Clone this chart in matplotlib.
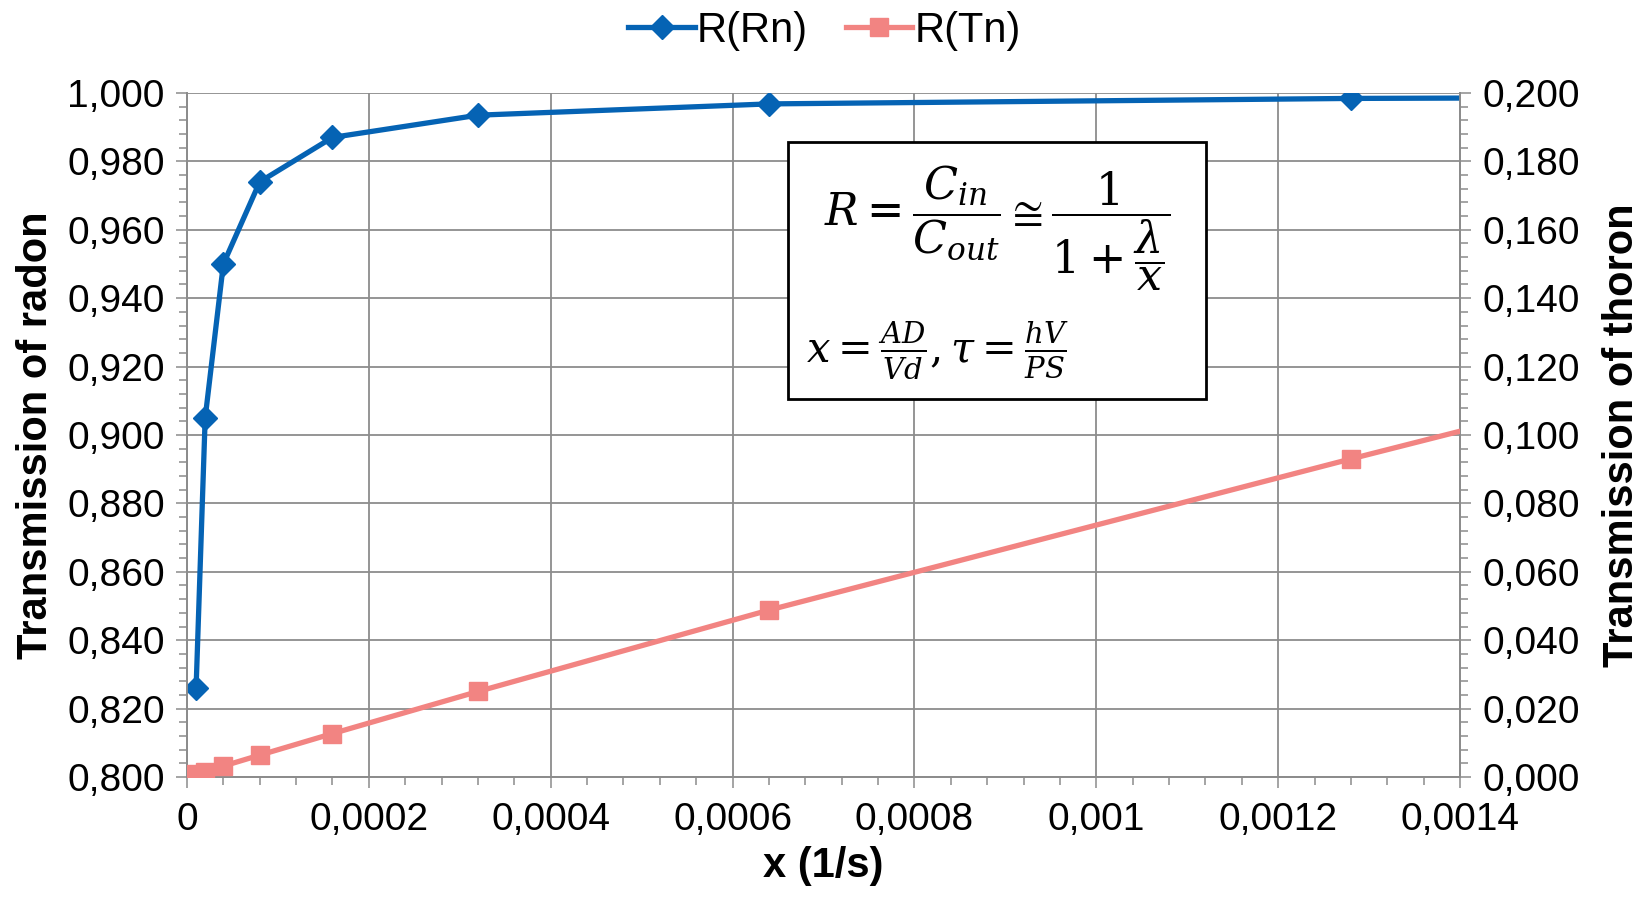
import matplotlib
matplotlib.use('Agg')
import matplotlib.pyplot as plt
from matplotlib.ticker import MultipleLocator, FuncFormatter
from matplotlib.patches import Rectangle

matplotlib.rcParams['font.family'] = 'Liberation Sans'
matplotlib.rcParams['mathtext.fontset'] = 'dejavuserif'

# ventilation rate x (1/s)
x_vals = [0.00001, 0.00002, 0.00004, 0.00008, 0.00016, 0.00032, 0.00064, 0.00128, 0.0014]
# transmission values
r_rn = [0.826, 0.905, 0.950, 0.974, 0.987, 0.9935, 0.9968, 0.9984, 0.9985]
r_tn = [0.0008, 0.0016, 0.0032, 0.0064, 0.0127, 0.0250, 0.0488, 0.0930, 0.1011]
n_markers = 8  # last point (0.0014) has no marker

blue = '#0563B4'
pink = '#F28482'
grid_gray = '#8C8C8C'

fig = plt.figure(figsize=(16.49, 8.99), dpi=100)
ax = fig.add_axes([0.1134, 0.1357, 0.7720, 0.7609])
ax2 = ax.twinx()


def comma(fmt):
    def f(v, pos):
        return fmt(v).replace('.', ',')
    return FuncFormatter(f)


# left axis (radon)
ln1, = ax.plot(x_vals, r_rn, color=blue, lw=3.8, marker='D', ms=12,
               markevery=list(range(n_markers)), zorder=4, label='R(Rn)')
ax.set_xlim(0, 0.0014)
ax.set_ylim(0.8, 1.0)
ax.xaxis.set_major_locator(MultipleLocator(0.0002))
ax.xaxis.set_minor_locator(MultipleLocator(0.00004))
ax.yaxis.set_major_locator(MultipleLocator(0.02))
ax.yaxis.set_minor_locator(MultipleLocator(0.004))
ax.xaxis.set_major_formatter(comma(lambda v: '%g' % round(v, 6)))
ax.yaxis.set_major_formatter(comma(lambda v: '%.3f' % v))
ax.grid(True, which='major', color=grid_gray, lw=1.3)
ax.set_axisbelow(True)

# right axis (thoron)
ln2, = ax2.plot(x_vals, r_tn, color=pink, lw=3.8, marker='s', ms=13,
                markevery=list(range(n_markers)), zorder=4, label='R(Tn)')
ax2.set_ylim(0, 0.2)
ax2.yaxis.set_major_locator(MultipleLocator(0.02))
ax2.yaxis.set_minor_locator(MultipleLocator(0.004))
ax2.yaxis.set_major_formatter(comma(lambda v: '%.3f' % v))

for a in (ax, ax2):
    for side in ('left', 'right', 'bottom'):
        a.spines[side].set_color(grid_gray)
        a.spines[side].set_linewidth(1.3)
    a.spines['top'].set_visible(False)
    a.tick_params(which='major', direction='out', length=8, width=1.1,
                  color=grid_gray, labelsize=28, pad=8)
    a.tick_params(which='minor', direction='out', length=6, width=1.1,
                  color=grid_gray)
ax.tick_params(axis='x', pad=10)

ax.set_xlabel('x (1/s)', fontsize=30, fontweight='bold', labelpad=6)
ax.set_ylabel('Transmission of radon', fontsize=30, fontweight='bold', labelpad=8)
ax2.set_ylabel('Transmission of thoron', fontsize=30, fontweight='bold', labelpad=16)

fig.legend(handles=[ln1, ln2], loc='upper center', bbox_to_anchor=(0.5, 1.03),
           ncol=2, frameon=False, fontsize=30, handlelength=1.6,
           handletextpad=0.05, columnspacing=0.9)

# formula box
box = Rectangle((788 / 1649, 1 - 399 / 899), (1206 - 788) / 1649, (399 - 142) / 899,
                transform=fig.transFigure, facecolor='white', edgecolor='black',
                lw=2, zorder=10)
fig.add_artist(box)
fig.text(997 / 1649, 1 - 228 / 899,
         r'$R = \dfrac{C_{in}}{C_{out}} \cong \dfrac{1}{1+\dfrac{\lambda}{x}}$',
         fontsize=32, ha='center', va='center', zorder=11)
fig.text(806 / 1649, 1 - 350 / 899,
         r'$x = \frac{AD}{Vd}, \tau = \frac{hV}{PS}$',
         fontsize=30, ha='left', va='center', zorder=11)

fig.savefig('out.png', dpi=100)
